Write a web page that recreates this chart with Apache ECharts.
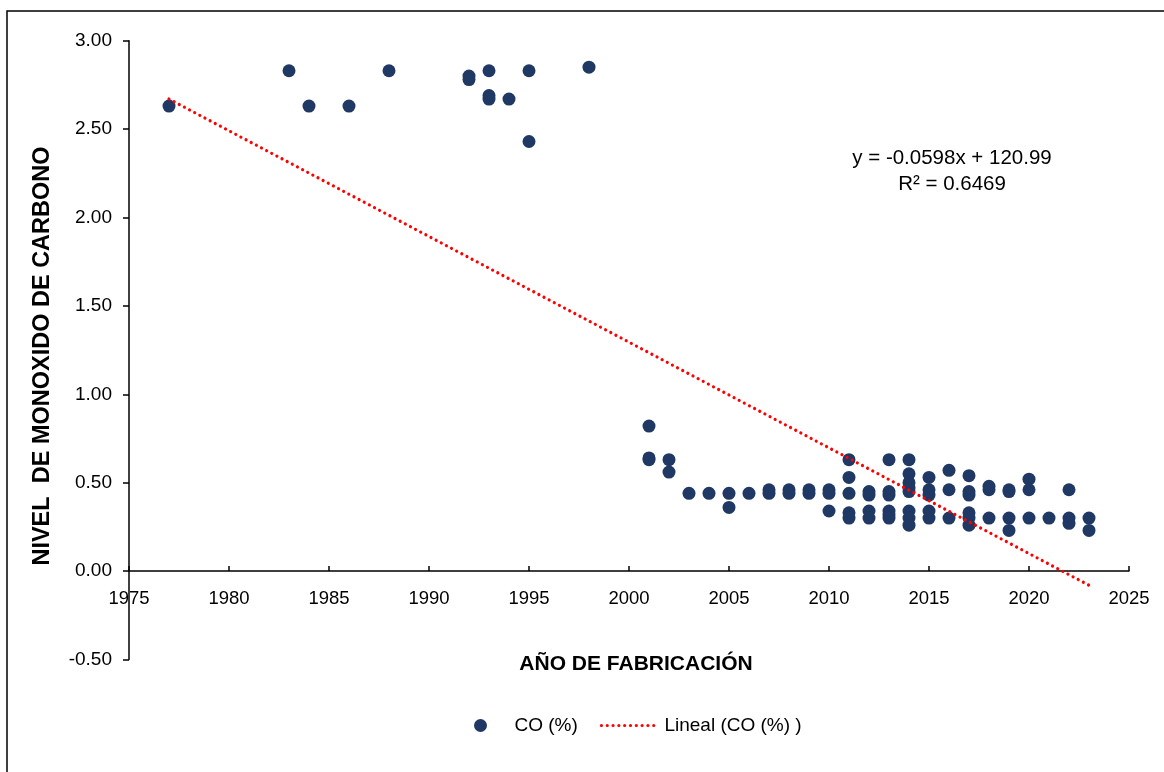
<!DOCTYPE html>
<html>
<head>
<meta charset="utf-8">
<script src="https://cdn.jsdelivr.net/npm/echarts@6/dist/echarts.min.js"></script>
<style>
html,body{margin:0;padding:0;background:#fff;}
#chart{width:1164px;height:772px;}
</style>
</head>
<body>
<div id="chart"></div>
<script>
// Data (year of manufacture vs CO %)
const years = [
  1977, 1983, 1984, 1986, 1988,
  1992, 1992, 1993, 1993, 1993, 1994, 1995, 1995, 1998,
  2001, 2001, 2001, 2002, 2002, 2003, 2004, 2005, 2005, 2006,
  2007, 2007, 2008, 2008, 2009, 2009, 2010, 2010, 2010,
  2011, 2011, 2011, 2011, 2011,
  2012, 2012, 2012, 2012,
  2013, 2013, 2013, 2013, 2013, 2013,
  2014, 2014, 2014, 2014, 2014, 2014, 2014, 2014,
  2015, 2015, 2015, 2015, 2015,
  2016, 2016, 2016,
  2017, 2017, 2017, 2017, 2017, 2017,
  2018, 2018, 2018,
  2019, 2019, 2019, 2019,
  2020, 2020, 2020,
  2021,
  2022, 2022, 2022,
  2023, 2023
];
const coValues = [
  2.63, 2.83, 2.63, 2.63, 2.83,
  2.80, 2.78, 2.83, 2.69, 2.67, 2.67, 2.83, 2.43, 2.85,
  0.82, 0.64, 0.63, 0.63, 0.56, 0.44, 0.44, 0.44, 0.36, 0.44,
  0.46, 0.44, 0.46, 0.44, 0.46, 0.44, 0.46, 0.44, 0.34,
  0.63, 0.53, 0.44, 0.33, 0.30,
  0.45, 0.43, 0.34, 0.30,
  0.63, 0.45, 0.43, 0.34, 0.32, 0.30,
  0.63, 0.55, 0.50, 0.45, 0.34, 0.30, 0.26, 0.47,
  0.53, 0.46, 0.43, 0.34, 0.30,
  0.57, 0.46, 0.30,
  0.54, 0.45, 0.43, 0.33, 0.30, 0.26,
  0.48, 0.46, 0.30,
  0.46, 0.45, 0.30, 0.23,
  0.52, 0.46, 0.30,
  0.30,
  0.46, 0.30, 0.27,
  0.30, 0.23
];
// Linear trend line endpoints (Excel "Lineal")
const trendYears = [1977, 2023];
const trendValues = [2.67, -0.08];
const equationText = ['y = -0.0598x + 120.99', 'R² = 0.6469'];
const seriesNames = ['CO (%)', 'Lineal (CO (%) )'];
const xTitle = 'AÑO DE FABRICACIÓN';
const yTitle = 'NIVEL  DE MONOXIDO DE CARBONO';

const FONT = 'Liberation Sans, Arial, sans-serif';
const scatterData = years.map((y, i) => [y, coValues[i]]);
const trendData = trendYears.map((y, i) => [y, trendValues[i]]);

const GRID_TOP = 40.7, GRID_BOTTOM_PX = 659.5;
const Y_MIN = -0.5, Y_MAX = 3;
const zeroPx = GRID_TOP + (Y_MAX - 0) / (Y_MAX - Y_MIN) * (GRID_BOTTOM_PX - GRID_TOP);

const trendStyle = { color: '#ff0000', width: 3.2, type: [0.01, 5.8], cap: 'round' };

const chart = echarts.init(document.getElementById('chart'));
chart.setOption({
  backgroundColor: '#ffffff',
  animation: false,
  grid: { left: 129, right: 35, top: GRID_TOP, bottom: 772 - GRID_BOTTOM_PX, containLabel: false },
  xAxis: {
    type: 'value', min: 1975, max: 2025, interval: 5,
    offset: -(GRID_BOTTOM_PX - zeroPx),
    axisLine: { show: true, onZero: false, lineStyle: { color: '#000', width: 1.5 } },
    axisTick: { show: true, inside: true, length: 5, lineStyle: { color: '#000', width: 1.5 } },
    axisLabel: { color: '#000', fontFamily: FONT, fontSize: 18.5, margin: 18,
      formatter: v => String(v) },
    splitLine: { show: false }
  },
  yAxis: {
    type: 'value', min: Y_MIN, max: Y_MAX, interval: 0.5,
    axisLine: { show: true, onZero: false, lineStyle: { color: '#000', width: 1.5 } },
    axisTick: { show: true, inside: false, length: 6, lineStyle: { color: '#000', width: 1.5 } },
    axisLabel: { color: '#000', fontFamily: FONT, fontSize: 19, margin: 17,
      formatter: v => v.toFixed(2) },
    splitLine: { show: false }
  },
  legend: {
    left: 469, top: 711,
    itemWidth: 58, itemHeight: 13, itemGap: 22,
    textStyle: { color: '#000', fontFamily: FONT, fontSize: 19 },
    data: [
      { name: seriesNames[0], icon: 'circle' },
      { name: seriesNames[1], itemStyle: { opacity: 0 }, lineStyle: trendStyle }
    ]
  },
  series: [
    {
      name: seriesNames[0], type: 'scatter', symbol: 'circle', symbolSize: 13,
      itemStyle: { color: '#1f3864', opacity: 1 },
      data: scatterData, z: 2
    },
    {
      name: seriesNames[1], type: 'line', symbol: 'none', showSymbol: false,
      lineStyle: trendStyle,
      itemStyle: { color: '#ff0000' },
      data: trendData, z: 3
    }
  ],
  graphic: [
    { type: 'rect', shape: { x: 7, y: 11, width: 1200, height: 800 },
      style: { fill: 'none', stroke: '#000', lineWidth: 1.5 }, silent: true },
    { type: 'text', x: 952, y: 158,
      style: { text: equationText[0], fill: '#000', font: '20.5px ' + FONT, textAlign: 'center', textVerticalAlign: 'middle' } },
    { type: 'text', x: 952, y: 184,
      style: { text: equationText[1], fill: '#000', font: '20.5px ' + FONT, textAlign: 'center', textVerticalAlign: 'middle' } },
    { type: 'text', x: 636, y: 664,
      style: { text: xTitle, fill: '#000', font: 'bold 21px ' + FONT, textAlign: 'center', textVerticalAlign: 'middle' } },
    { type: 'text', x: 43, y: 356, rotation: Math.PI / 2,
      style: { text: yTitle, fill: '#000', font: 'bold 23.5px ' + FONT, textAlign: 'center', textVerticalAlign: 'middle' } }
  ]
});
</script>
</body>
</html>
